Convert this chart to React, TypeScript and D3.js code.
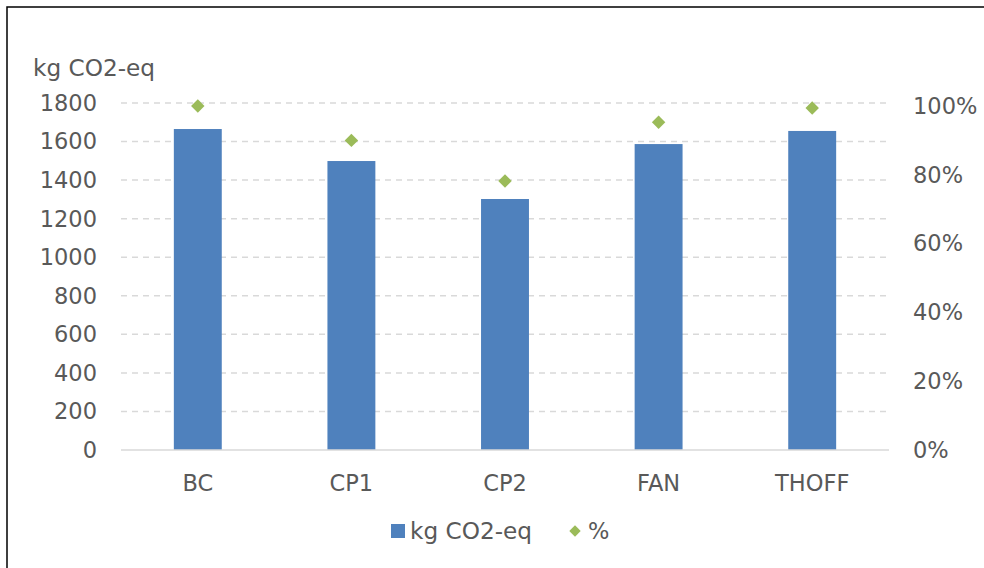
import React from "react";
import * as d3 from "d3";

const categories = ["BC", "CP1", "CP2", "FAN", "THOFF"];
const emissions = [1665, 1499, 1302, 1587, 1655];
const percents = [1.0, 0.9, 0.782, 0.953, 0.994];
const leftTicks = [0, 200, 400, 600, 800, 1000, 1200, 1400, 1600, 1800];
const rightTicks = [0, 0.2, 0.4, 0.6, 0.8, 1.0];
const yTitle = "kg CO2-eq";
const legendLabels = ["kg CO2-eq", "%"];

const W = 984;
const H = 568;
const FONT = "'DejaVu Sans', Verdana, sans-serif";
const TEXT = "#595959";
const BAR = "#4F81BD";
const MARK = "#9BBB59";
const GRID = "#D9D9D9";

export default function App() {
  const left = 121;
  const right = 889;
  const top = 103;
  const bottom = 450;

  const x = d3.scaleBand<string>().domain(categories).range([left, right]).paddingInner(0.688).paddingOuter(0.344);
  const y = d3.scaleLinear().domain([0, 1800]).range([bottom, top]);
  const y2 = d3.scaleLinear().domain([0, 1]).range([bottom, 106]);
  const fs = 22.5;
  const diamond = d3.symbol().type(d3.symbolDiamond2 || d3.symbolDiamond).size(115)();

  return (
    <div style={{ position: "absolute", left: 0, top: 0 }}>
      <svg width={W} height={H} style={{ display: "block", fontFamily: FONT }}>
        <rect x={0} y={0} width={W} height={H} fill="#fff" />
        <path d={`M7,${H + 5}V7H${W + 5}`} fill="none" stroke="#000" strokeWidth={1.5} />
        {leftTicks.map((t) =>
          t === 0 ? null : (
            <line key={t} x1={left} x2={right} y1={y(t)} y2={y(t)} stroke={GRID} strokeWidth={1.5} strokeDasharray="6,5" />
          )
        )}
        {categories.map((c, i) => (
          <rect key={c} x={x(c)} y={y(emissions[i])} width={x.bandwidth()} height={bottom - y(emissions[i])} fill={BAR} />
        ))}
        <line x1={left} x2={right} y1={bottom} y2={bottom} stroke={GRID} strokeWidth={1.5} />
        {categories.map((c, i) => (
          <path key={c} d={diamond!} transform={`translate(${x(c)! + x.bandwidth() / 2},${y2(percents[i])})`} fill={MARK} />
        ))}
        {leftTicks.map((t) => (
          <text key={t} x={97} y={y(t)} dy="0.35em" textAnchor="end" fontSize={fs} fill={TEXT}>
            {t}
          </text>
        ))}
        {rightTicks.map((t) => (
          <text key={t} x={913} y={y2(t)} dy="0.35em" textAnchor="start" fontSize={fs} fill={TEXT}>
            {d3.format(".0%")(t)}
          </text>
        ))}
        <text x={33} y={68} dy="0.35em" fontSize={23.2} fill={TEXT}>
          {yTitle}
        </text>
        {categories.map((c) => (
          <text key={c} x={x(c)! + x.bandwidth() / 2} y={483} dy="0.35em" textAnchor="middle" fontSize={fs} fill={TEXT}>
            {c}
          </text>
        ))}
        <rect x={391} y={524} width={14} height={14} fill={BAR} />
        <text x={410} y={531} dy="0.35em" fontSize={23.2} fill={TEXT}>
          {legendLabels[0]}
        </text>
        <path d={diamond!} transform="translate(575,531) scale(0.85)" fill={MARK} />
        <text x={588} y={531} dy="0.35em" fontSize={fs} fill={TEXT}>
          {legendLabels[1]}
        </text>
      </svg>
    </div>
  );
}
